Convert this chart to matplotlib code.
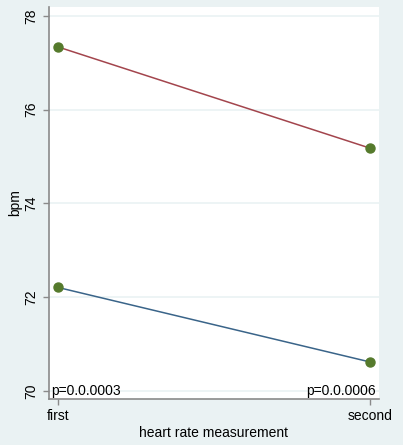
import matplotlib.pyplot as plt

# Пулс: първо и второ измерване, две групи
kategorii = ["first", "second"]
cherveni = [77.34, 75.18]
sini = [72.21, 70.62]
y_tiktsi = [70, 72, 74, 76, 78]
p_lqvo = "p=0.0.0003"
p_dqsno = "p=0.0.0006"

plt.rcParams['font.family'] = ['Liberation Sans', 'DejaVu Sans']

fon = "#eaf2f3"
fig = plt.figure(figsize=(4.03, 4.45), dpi=100, facecolor=fon)
ax = fig.add_axes([0.1216, 0.1034, 0.8188, 0.8809])
ax.set_facecolor("white")

x = list(range(len(kategorii)))
ax.plot(x, cherveni, color="#a3454d", lw=1.1, zorder=3)
ax.plot(x, sini, color="#3a6489", lw=1.1, zorder=3)
ax.plot(x, cherveni, "o", color="#557a2c", ms=6.5, zorder=4)
ax.plot(x, sini, "o", color="#557a2c", ms=6.5, zorder=4)

ax.set_xlim(-0.028, 1.029)
ax.set_ylim(69.83, 78.19)
ax.set_xticks(x)
ax.set_xticklabels(kategorii, fontsize=10)
ax.set_yticks(y_tiktsi)
ax.set_yticklabels([str(v) for v in y_tiktsi], rotation=90, va="center", fontsize=10)
ax.grid(axis="y", color=fon, lw=1.2, zorder=1)

for s in ["top", "right"]:
    ax.spines[s].set_visible(False)
for s in ["left", "bottom"]:
    ax.spines[s].set_color("#8a8a8a")
    ax.spines[s].set_linewidth(1.2)
ax.tick_params(colors="#8a8a8a", labelcolor="black", length=4, width=1)

ax.text(0.006, 70, p_lqvo, fontsize=10, ha="left", va="center",
        transform=ax.get_yaxis_transform())
ax.text(0.99, 70, p_dqsno, fontsize=10, ha="right", va="center",
        transform=ax.get_yaxis_transform())

ax.set_xlabel("heart rate measurement", fontsize=10, labelpad=2)
ax.set_ylabel("bpm", fontsize=10, labelpad=2)

fig.savefig("out.png", dpi=100, facecolor=fon)
